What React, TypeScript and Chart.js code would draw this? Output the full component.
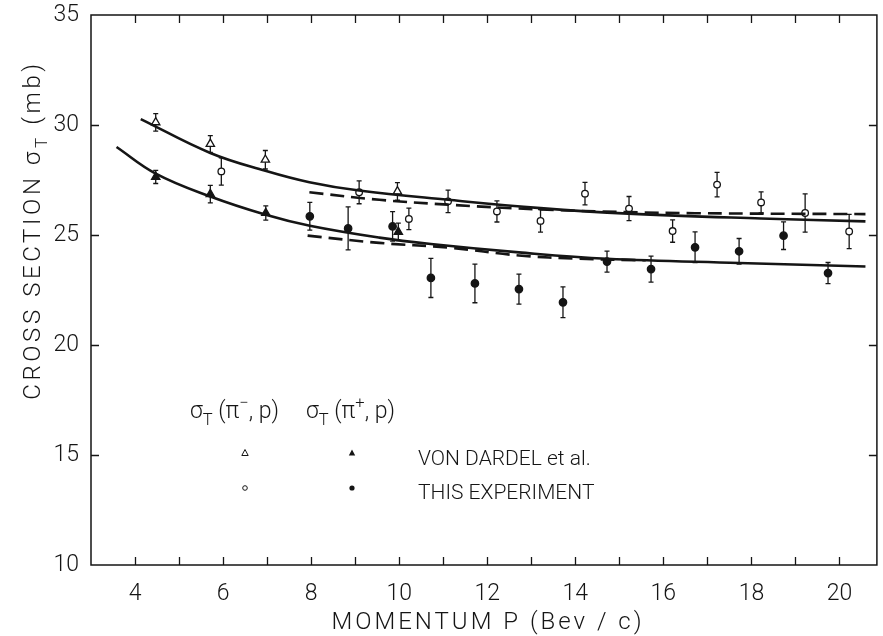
import React, { useEffect, useRef } from "react";
import { Chart, registerables } from "chart.js";

Chart.register(...registerables);

// ---- Data ----
const vdMinusX = [4.47, 5.71, 6.96, 9.96];
const vdMinusY = [30.12, 29.14, 28.42, 26.98];
const vdMinusErr = [0.4, 0.38, 0.42, 0.4];

const vdPlusX = [4.47, 5.71, 6.97, 9.98];
const vdPlusY = [27.64, 26.86, 26.0, 25.14];
const vdPlusErr = [0.3, 0.4, 0.32, 0.4];

const expMinusX = [5.96, 9.09, 10.22, 11.11, 12.22, 13.21, 14.22, 15.22, 16.21, 17.22, 18.22, 19.22, 20.22];
const expMinusY = [27.89, 26.94, 25.73, 26.53, 26.07, 25.64, 26.88, 26.2, 25.18, 27.29, 26.48, 26.0, 25.16];
const expMinusErr = [0.62, 0.52, 0.49, 0.51, 0.48, 0.51, 0.51, 0.55, 0.51, 0.56, 0.48, 0.87, 0.78];

const expPlusX = [7.97, 8.84, 9.85, 10.72, 11.72, 12.72, 13.72, 14.72, 15.72, 16.72, 17.72, 18.73, 19.74];
const expPlusY = [25.85, 25.3, 25.39, 23.05, 22.8, 22.54, 21.94, 23.79, 23.45, 24.44, 24.26, 24.97, 23.27];
const expPlusErr = [0.63, 0.98, 0.67, 0.89, 0.88, 0.68, 0.7, 0.48, 0.59, 0.7, 0.58, 0.63, 0.48];

const upperSolidX = [4.13, 5.71, 6.96, 7.96, 9.09, 11.11, 13.21, 15.2, 18.22, 20.59];
const upperSolidY = [30.27, 28.73, 27.92, 27.4, 27.02, 26.6, 26.22, 25.97, 25.75, 25.62];

const lowerSolidX = [3.58, 4.47, 5.71, 6.97, 7.97, 9.55, 10.72, 12.72, 14.72, 17.72, 20.59];
const lowerSolidY = [29.0, 27.79, 26.75, 25.92, 25.42, 24.88, 24.59, 24.21, 23.92, 23.73, 23.57];

const upperDashX = [7.96, 9.55, 11.11, 13.21, 15.2, 16.72, 20.59];
const upperDashY = [26.94, 26.6, 26.38, 26.16, 26.04, 25.99, 25.95];

const lowerDashX = [7.92, 9.55, 11.11, 12.72, 14.08, 15.6];
const lowerDashY = [24.97, 24.64, 24.43, 24.07, 23.92, 23.85];

const xMin = 3;
const xMax = 20.85;
const yMin = 10;
const yMax = 35;
const xTickValues = [4, 5, 6, 7, 8, 9, 10, 11, 12, 13, 14, 15, 16, 17, 18, 19, 20];
const yTickValues = [15, 20, 25, 30];

const xTitle = "MOMENTUM P (Bev / c)";
const yTitleParts = ["CROSS SECTION σ", "T", " (mb)"];
const legendRows = ["VON DARDEL et al.", "THIS EXPERIMENT"];

const FONT = "Roboto";
const INK = "#151515";

const zip = (xs: number[], ys: number[]) => xs.map((x, i) => ({ x, y: ys[i] }));

// text pieces: [text, kind] kind: 0 normal, 1 sub, 2 sup
function drawRich(ctx: CanvasRenderingContext2D, parts: [string, number][], x: number, y: number, size: number, spacing: number) {
  let cx = x;
  for (const [t, k] of parts) {
    const s = k === 0 ? size : size * 0.72;
    ctx.font = `300 ${s}px ${FONT}`;
    (ctx as any).letterSpacing = `${spacing}px`;
    const dy = k === 1 ? size * 0.3 : k === 2 ? -size * 0.42 : 0;
    ctx.fillText(t, cx, y + dy);
    cx += ctx.measureText(t).width;
  }
  return cx - x;
}
function measureRich(ctx: CanvasRenderingContext2D, parts: [string, number][], size: number, spacing: number) {
  let w = 0;
  for (const [t, k] of parts) {
    const s = k === 0 ? size : size * 0.72;
    ctx.font = `300 ${s}px ${FONT}`;
    (ctx as any).letterSpacing = `${spacing}px`;
    w += ctx.measureText(t).width;
  }
  return w;
}

const errorSets: Record<number, number[]> = { 4: vdMinusErr, 5: vdPlusErr, 6: expMinusErr, 7: expPlusErr };

const framePlugin = {
  id: "frameAndExtras",
  beforeDatasetsDraw(chart: any) {
    const ctx: CanvasRenderingContext2D = chart.ctx;
    const xs = chart.scales.x;
    const ys = chart.scales.y;
    ctx.save();
    ctx.strokeStyle = INK;
    ctx.lineWidth = 1.3;
    for (const key of Object.keys(errorSets)) {
      const di = Number(key);
      const ds = chart.data.datasets[di];
      const errs = errorSets[di];
      ds.data.forEach((p: any, i: number) => {
        const px = xs.getPixelForValue(p.x);
        const top = ys.getPixelForValue(p.y + errs[i]);
        const bot = ys.getPixelForValue(p.y - errs[i]);
        ctx.beginPath();
        ctx.moveTo(px, top);
        ctx.lineTo(px, bot);
        ctx.moveTo(px - 2.5, top);
        ctx.lineTo(px + 2.5, top);
        ctx.moveTo(px - 2.5, bot);
        ctx.lineTo(px + 2.5, bot);
        ctx.stroke();
      });
    }
    ctx.restore();
  },
  afterDraw(chart: any) {
    const ctx: CanvasRenderingContext2D = chart.ctx;
    const a = chart.chartArea;
    const xs = chart.scales.x;
    const ys = chart.scales.y;
    ctx.save();
    ctx.strokeStyle = INK;
    ctx.lineWidth = 1.5;
    ctx.strokeRect(a.left, a.top, a.right - a.left, a.bottom - a.top);
    ctx.lineWidth = 1.3;
    ctx.beginPath();
    for (const v of xTickValues) {
      const px = Math.round(xs.getPixelForValue(v)) + 0.5;
      ctx.moveTo(px, a.bottom);
      ctx.lineTo(px, a.bottom - 8);
      ctx.moveTo(px, a.top);
      ctx.lineTo(px, a.top + 8);
    }
    for (const v of yTickValues) {
      const py = Math.round(ys.getPixelForValue(v)) + 0.5;
      ctx.moveTo(a.left, py);
      ctx.lineTo(a.left + 8, py);
      ctx.moveTo(a.right, py);
      ctx.lineTo(a.right - 8, py);
    }
    ctx.stroke();

    ctx.fillStyle = INK;
    ctx.textBaseline = "alphabetic";
    ctx.textAlign = "left";

    // x title
    const xParts: [string, number][] = [[xTitle, 0]];
    const xw = measureRich(ctx, xParts, 24, 3);
    drawRich(ctx, xParts, (a.left + a.right) / 2 + 4 - xw / 2, 629, 24, 3);

    // y title (rotated)
    const yParts: [string, number][] = [[yTitleParts[0], 0], [yTitleParts[1], 1], [yTitleParts[2], 0]];
    const yw = measureRich(ctx, yParts, 24, 3.6);
    ctx.save();
    ctx.translate(40, 230);
    ctx.rotate(-Math.PI / 2);
    drawRich(ctx, yParts, -yw / 2, 0, 24, 3.6);
    ctx.restore();

    // legend header
    const h1: [string, number][] = [["σ", 0], ["T", 1], [" (π", 0], ["−", 2], [", p)", 0]];
    const h2: [string, number][] = [["σ", 0], ["T", 1], [" (π", 0], ["+", 2], [", p)", 0]];
    drawRich(ctx, h1, 190, 418, 23, 0);
    drawRich(ctx, h2, 306, 418, 23, 0);

    // legend rows
    ctx.font = `300 21px ${FONT}`;
    (ctx as any).letterSpacing = "0px";
    ctx.fillText(legendRows[0], 418, 465);
    ctx.fillText(legendRows[1], 418, 499);

    // legend symbols
    ctx.lineWidth = 1;
    const tri = (cx: number, cy: number, fill: boolean) => {
      ctx.beginPath();
      ctx.moveTo(cx, cy - 3.5);
      ctx.lineTo(cx + 3.2, cy + 2.5);
      ctx.lineTo(cx - 3.2, cy + 2.5);
      ctx.closePath();
      if (fill) ctx.fill();
      else ctx.stroke();
    };
    tri(245, 453, false);
    tri(352, 453, true);
    ctx.beginPath();
    ctx.arc(245, 488, 2.3, 0, Math.PI * 2);
    ctx.stroke();
    ctx.beginPath();
    ctx.arc(352, 488, 2.6, 0, Math.PI * 2);
    ctx.fill();
    ctx.restore();
  },
};

export default function App() {
  const ref = useRef<HTMLCanvasElement | null>(null);
  useEffect(() => {
    if (!ref.current) return;
    const lineDs = (label: string, xs: number[], ys: number[], dash: number[]) => ({
      type: "line" as const,
      label,
      data: zip(xs, ys),
      showLine: true,
      borderColor: INK,
      borderWidth: 2.6,
      borderDash: dash,
      pointRadius: 0,
      fill: false,
      tension: 0.4,
    });
    const ptDs = (label: string, xs: number[], ys: number[], style: string, filled: boolean, r: number) => ({
      type: "scatter" as const,
      label,
      data: zip(xs, ys),
      pointStyle: style,
      pointRadius: r,
      pointBorderWidth: 1.3,
      pointBorderColor: INK,
      pointBackgroundColor: filled ? INK : "#ffffff",
      borderColor: INK,
      backgroundColor: filled ? INK : "#ffffff",
      showLine: false,
    });
    const chart = new Chart(ref.current, {
      type: "scatter",
      data: {
        datasets: [
          lineDs("upper fit", upperSolidX, upperSolidY, []),
          lineDs("lower fit", lowerSolidX, lowerSolidY, []),
          lineDs("upper dashed", upperDashX, upperDashY, [14, 7]),
          lineDs("lower dashed", lowerDashX, lowerDashY, [14, 7]),
          ptDs("von Dardel π- p", vdMinusX, vdMinusY, "triangle", false, 4.8),
          ptDs("von Dardel π+ p", vdPlusX, vdPlusY, "triangle", true, 4.8),
          ptDs("this experiment π- p", expMinusX, expMinusY, "circle", false, 3.3),
          ptDs("this experiment π+ p", expPlusX, expPlusY, "circle", true, 3.7),
        ] as any,
      },
      options: {
        responsive: false,
        animation: false,
        layout: { padding: { left: 0, top: 15, right: 4, bottom: 0 } },
        plugins: { legend: { display: false }, tooltip: { enabled: false } },
        scales: {
          x: {
            type: "linear",
            min: xMin,
            max: xMax,
            grid: { display: false, drawTicks: false },
            border: { display: false },
            afterFit: (s: any) => { s.height = 71; s.paddingLeft = 0; s.paddingRight = 0; },
            afterBuildTicks: (s: any) => { s.ticks = xTickValues.map((v) => ({ value: v })); },
            ticks: {
              autoSkip: false,
              maxRotation: 0,
              padding: 15,
              color: INK,
              font: { family: FONT, size: 23, weight: "300" as any },
              callback: (v: any) => (Number(v) % 2 === 0 ? String(v) : ""),
            },
          },
          y: {
            type: "linear",
            min: yMin,
            max: yMax,
            grid: { display: false, drawTicks: false },
            border: { display: false },
            afterFit: (s: any) => { s.width = 91; s.paddingTop = 0; s.paddingBottom = 0; },
            ticks: {
              stepSize: 5,
              padding: 12,
              color: INK,
              font: { family: FONT, size: 23, weight: "300" as any },
            },
          },
        },
      },
      plugins: [framePlugin],
    });
    return () => chart.destroy();
  }, []);
  return (
    <div style={{ position: "fixed", left: 0, top: 0, width: 883, height: 636, background: "#fff" }}>
      <canvas ref={ref} width={883} height={636} />
    </div>
  );
}
